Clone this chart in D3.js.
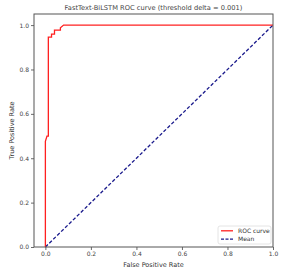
<!DOCTYPE html>
<html><head><meta charset="utf-8">
<script src="https://cdn.jsdelivr.net/npm/d3@7"></script>
<style>body{margin:0;background:#fff}svg{display:block}text{font-family:"DejaVu Sans",sans-serif}</style>
</head><body>
<script>
const rocFPR = [0, 0, 0.007, 0.013, 0.013, 0.027, 0.027, 0.04, 0.04, 0.066, 0.066, 0.08, 1.0];
const rocTPR = [0, 0.476, 0.5, 0.5, 0.946, 0.946, 0.959, 0.959, 0.977, 0.977, 0.988, 1.0, 1.0];
const meanX = [0, 1];
const meanY = [0, 1];
const ticks = [0.0, 0.2, 0.4, 0.6, 0.8, 1.0];
const title = "FastText-BiLSTM ROC curve (threshold delta = 0.001)";
const xLabel = "False Positive Rate";
const yLabel = "True Positive Rate";
const legendLabels = ["ROC curve", "Mean"];

const W = 283, H = 272;
const m = {l: 34, r: 10, t: 14, b: 25};
const svg = d3.select("body").append("svg").attr("width", W).attr("height", H);
const x = d3.scaleLinear().domain([-0.05, 1.0]).range([m.l, W - m.r]);
const y = d3.scaleLinear().domain([0, 1.05]).range([H - m.b, m.t]);

const g = svg.append("g");
const xa = g.append("g").attr("transform", `translate(0,${H - m.b})`)
  .call(d3.axisBottom(x).tickValues(ticks).tickFormat(d3.format(".1f")).tickSize(3).tickPadding(2));
const ya = g.append("g").attr("transform", `translate(${m.l},0)`)
  .call(d3.axisLeft(y).tickValues(ticks).tickFormat(d3.format(".1f")).tickSize(3).tickPadding(2));
[xa, ya].forEach(a => {
  a.select(".domain").remove();
  a.selectAll("line").attr("stroke", "#444").attr("stroke-width", 0.8);
  a.selectAll("text").attr("fill", "#444").style("font-size", "6px");
});

const line = d3.line().x(d => x(d[0])).y(d => y(d[1]));
g.append("path").datum(meanX.map((v, i) => [v, meanY[i]]))
  .attr("d", line).attr("fill", "none").attr("stroke", "#1a1a8c")
  .attr("stroke-width", 1.3).attr("stroke-dasharray", "3.5,2");
g.append("path").datum(rocFPR.map((v, i) => [v, rocTPR[i]]))
  .attr("d", line).attr("fill", "none").attr("stroke", "#ff2020").attr("stroke-width", 1.3);

g.append("rect").attr("x", m.l).attr("y", m.t).attr("width", W - m.r - m.l).attr("height", H - m.b - m.t)
  .attr("fill", "none").attr("stroke", "#555").attr("stroke-width", 1);

svg.append("text").attr("x", (m.l + W - m.r) / 2).attr("y", 10).attr("text-anchor", "middle")
  .attr("fill", "#444").style("font-size", "6.7px").text(title);
svg.append("text").attr("x", (m.l + W - m.r) / 2).attr("y", 267).attr("text-anchor", "middle")
  .attr("fill", "#333").style("font-size", "6.5px").text(xLabel);
svg.append("text").attr("transform", `translate(14,${(m.t + H - m.b) / 2}) rotate(-90)`).attr("text-anchor", "middle")
  .attr("fill", "#333").style("font-size", "6.5px").text(yLabel);

const lg = svg.append("g");
lg.append("rect").attr("x", 218).attr("y", 226).attr("width", 53).attr("height", 18).attr("rx", 2)
  .attr("fill", "#fff").attr("stroke", "#ddd").attr("stroke-width", 0.8);
const colors = ["#ff2020", "#1a1a8c"], dashes = [null, "3,1.5"];
legendLabels.forEach((t, i) => {
  const yy = 230.8 + i * 8.4;
  lg.append("line").attr("x1", 221).attr("x2", 233).attr("y1", yy).attr("y2", yy)
    .attr("stroke", colors[i]).attr("stroke-width", 1.3).attr("stroke-dasharray", dashes[i]);
  lg.append("text").attr("x", 238).attr("y", yy + 2.1).attr("fill", "#333").style("font-size", "6px").text(t);
});
</script>
</body></html>
